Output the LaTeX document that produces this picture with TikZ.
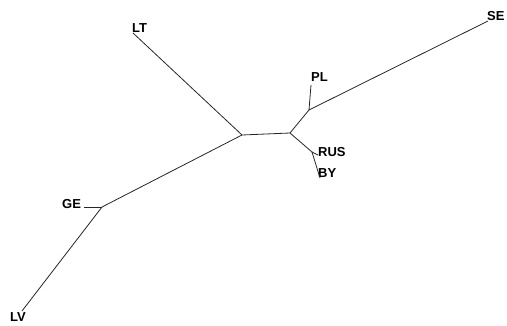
\documentclass[tikz,border=0pt]{standalone}
\usepackage{fontspec}
\setmainfont{Liberation Sans}
\begin{document}
\begin{tikzpicture}[x=1pt,y=-1pt,
  br/.style={draw=black!85,line width=0.8pt},
  lab/.style={anchor=base west,inner sep=0pt,font=\bfseries\fontsize{13}{13}\selectfont}]
\useasboundingbox (0,0) rectangle (507,326);
% internal nodes
\coordinate (A) at (242,135);
\coordinate (B) at (290,133);
\coordinate (C) at (309,110);
\coordinate (D) at (312,152);
\coordinate (E) at (102,207);
% leaves
\coordinate (lt) at (133,33);
\coordinate (pl) at (311,85);
\coordinate (se) at (488,21);
\coordinate (rus) at (318,155);
\coordinate (by) at (320,178);
\coordinate (ge) at (84,207);
\coordinate (lv) at (22,311);
% labels
\node[lab] (LT) at (132,33) {LT};
\node[lab] (PL) at (311,82) {PL};
\node[lab] (SE) at (487,21) {SE};
\node[lab] (RUS) at (318,157) {RUS};
\node[lab] (BY) at (318,178) {BY};
\node[lab] (GE) at (62,209) {GE};
\node[lab] (LV) at (10,322) {LV};
% branches
\draw[br] (A) -- (lt);
\draw[br] (A) -- (B);
\draw[br] (A) -- (E);
\draw[br] (B) -- (C);
\draw[br] (B) -- (D);
\draw[br] (C) -- (pl);
\draw[br] (C) -- (se);
\draw[br] (D) -- (rus);
\draw[br] (D) -- (by);
\draw[br] (E) -- (ge);
\draw[br] (E) -- (lv);
\end{tikzpicture}
\end{document}
